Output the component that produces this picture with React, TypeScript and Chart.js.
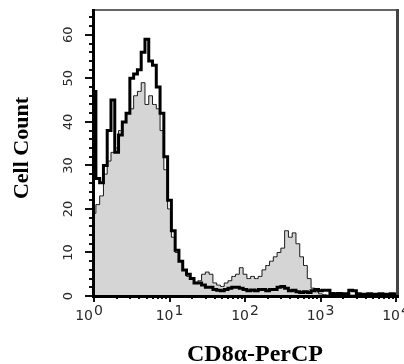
import React, { useEffect, useRef } from "react";
import { Chart, registerables } from "chart.js";

Chart.register(...registerables);

// Channel positions in decades (log10 of fluorescence)
const binLog = [
  0.0, 0.05, 0.1, 0.15, 0.2, 0.25, 0.3, 0.35, 0.4, 0.45,
  0.5, 0.55, 0.6, 0.65, 0.7, 0.75, 0.8, 0.85, 0.9, 0.95,
  1.0, 1.05, 1.1, 1.15, 1.2, 1.25, 1.3, 1.35, 1.4, 1.45,
  1.5, 1.55, 1.6, 1.65, 1.7, 1.75, 1.8, 1.85, 1.9, 1.95,
  2.0, 2.05, 2.1, 2.15, 2.2, 2.25, 2.3, 2.35, 2.4, 2.45,
  2.5, 2.55, 2.6, 2.65, 2.7, 2.75, 2.8, 2.85, 2.9, 2.95,
  3.0, 3.05, 3.1, 3.15, 3.2, 3.25, 3.3, 3.35, 3.4, 3.45,
  3.5, 3.55, 3.6, 3.65, 3.7, 3.75, 3.8, 3.85, 3.9, 3.95,
  4.0,
];

// Gray filled histogram (thin outline)
const grayCounts = [
  19, 21, 23, 28, 31, 33, 34, 38, 40, 42,
  43, 46, 47, 49, 44, 46, 44, 43, 38, 29,
  20, 13.5, 10, 8, 6, 4.5, 4, 3, 3.5, 5,
  5.5, 5, 3, 2.5, 2.2, 3, 3.5, 4.5, 5, 6.5,
  5, 4, 4.5, 4, 4.5, 6, 7, 8, 9, 10,
  11, 15, 13.5, 14.5, 12, 9, 7, 4, 1.8, 1,
  0.5, 0.3, 0.2, 0.2, 0.2, 0.2, 0.2, 0.2, 0.2, 0.2,
  0.2, 0.2, 0.2, 0.2, 0.2, 0.2, 0.2, 0.2, 0.2, 0.2,
  0.2,
];

// Thick black histogram
const blackCounts = [
  47, 27, 26, 30, 38, 45, 33, 37, 40, 42,
  50, 51, 52, 56, 59, 54, 53, 48, 42, 32,
  22, 15, 10.5, 8, 6, 5, 4, 3, 3, 2.5,
  2, 2, 1.5, 1.3, 1.2, 1.5, 1.8, 2, 2, 1.8,
  1.5, 1.2, 1.4, 1.2, 1.5, 1.5, 1.2, 1.5, 1.5, 2,
  2.2, 1.8, 1.2, 1.3, 1, 0.8, 1, 0.8, 1.2, 1.5,
  1.2, 1.3, 1.3, 0.6, 0.5, 0.6, 0.5, 0.5, 1.3, 1.2,
  0.5, 0.4, 0.4, 0.5, 0.4, 0.4, 0.5, 0.4, 0.4, 0.5,
  0.4,
];

const xTickExponents = ["0", "1", "2", "3", "4"];
const yTickLabels = [0, 10, 20, 30, 40, 50, 60];
const xTitle = "CD8α-PerCP";
const yTitle = "Cell Count";

const framePlugin = {
  id: "frame",
  afterDraw(chart: any) {
    const { ctx, chartArea: a, scales } = chart;
    const xs = scales.x;
    const ys = scales.y;
    const L = Math.round(a.left);
    const B = Math.round(a.bottom);
    ctx.save();
    // gray top & right border
    ctx.fillStyle = "#666666";
    ctx.fillRect(L, 9, 398 - L, 2);
    ctx.fillStyle = "#444444";
    ctx.fillRect(396, 9, 3, B - 9);

    // y ticks
    ctx.fillStyle = "#111";
    for (let v = 0; v <= 64; v += 2) {
      const y = Math.round(ys.getPixelForValue(v));
      const len = v % 10 === 0 ? 9 : 5;
      ctx.fillRect(L - len, y - 1, len, 2);
    }
    // x ticks
    for (let d = 0; d < 4; d++) {
      for (let m = 1; m <= 9; m++) {
        const x = Math.round(xs.getPixelForValue(m * Math.pow(10, d)));
        const len = m === 1 ? 6 : 3;
        ctx.fillRect(x - 1, B, 2, len);
      }
    }
    {
      const x = Math.round(xs.getPixelForValue(10000));
      ctx.fillRect(x - 1, B, 2, 6);
    }

    // thick black axes
    ctx.fillStyle = "#000";
    ctx.fillRect(L - 2, 9, 3, B - 9 + 2);
    ctx.fillRect(L - 2, B - 1, 399 - L + 2, 3);

    // y tick labels (rotated)
    ctx.fillStyle = "#2a2a2a";
    ctx.font = "13px 'DejaVu Sans'";
    ctx.textAlign = "center";
    ctx.textBaseline = "middle";
    for (const v of yTickLabels) {
      const y = ys.getPixelForValue(v);
      ctx.save();
      ctx.translate(69, y);
      ctx.rotate(-Math.PI / 2);
      ctx.fillText(String(v), 0, 0);
      ctx.restore();
    }

    // x tick labels: 10 with superscript exponent
    ctx.textAlign = "left";
    ctx.textBaseline = "alphabetic";
    xTickExponents.forEach((e, i) => {
      const x = xs.getPixelForValue(Math.pow(10, i));
      const base = "10";
      ctx.font = "14px 'DejaVu Sans'";
      const w1 = ctx.measureText(base).width;
      const w2 = ctx.measureText(e).width;
      const total = w1 + 1 + w2;
      const start = x - total / 2 - (i === 0 ? 5 : 0);
      ctx.fillText(base, start, 320);
      ctx.fillText(e, start + w1 + 1, 315);
    });

    // axis titles
    ctx.fillStyle = "#000";
    ctx.font = "bold 24px 'Liberation Serif'";
    ctx.textAlign = "center";
    ctx.textBaseline = "alphabetic";
    ctx.fillText(xTitle, 255, 361);

    ctx.save();
    ctx.font = "bold 22px 'Liberation Serif'";
    ctx.translate(22, 148);
    ctx.rotate(-Math.PI / 2);
    ctx.textBaseline = "middle";
    ctx.fillText(yTitle, 0, 0);
    ctx.restore();

    ctx.restore();
  },
};

export default function App() {
  const ref = useRef<HTMLCanvasElement | null>(null);

  useEffect(() => {
    if (!ref.current) return;
    const toPoints = (vals: number[]) =>
      binLog.map((p, i) => ({ x: Math.pow(10, p), y: vals[i] }));

    const chart = new Chart(ref.current, {
      type: "line",
      data: {
        datasets: [
          {
            label: "CD8α",
            data: toPoints(blackCounts),
            borderColor: "#000",
            borderWidth: 3,
            stepped: "middle",
            pointRadius: 0,
            fill: false,
            order: 0,
          },
          {
            label: "Control",
            data: toPoints(grayCounts),
            borderColor: "#1a1a1a",
            backgroundColor: "#d5d5d5",
            borderWidth: 1,
            stepped: "middle",
            pointRadius: 0,
            fill: "origin",
            order: 1,
          },
        ],
      },
      options: {
        responsive: false,
        animation: false,
        devicePixelRatio: 1,
        layout: { padding: { top: 10, right: 8, left: 0, bottom: 0 } },
        plugins: {
          legend: { display: false },
          tooltip: { enabled: false },
        },
        scales: {
          x: {
            type: "logarithmic",
            min: 1,
            max: 10000,
            ticks: { display: false },
            grid: { display: false },
            border: { display: false },
            afterFit: (s: any) => {
              s.height = 68;
            },
          },
          y: {
            type: "linear",
            min: 0,
            max: 65.7,
            ticks: { display: false },
            grid: { display: false },
            border: { display: false },
            afterFit: (s: any) => {
              s.width = 94;
            },
          },
        },
      },
      plugins: [framePlugin],
    });
    return () => chart.destroy();
  }, []);

  return (
    <div style={{ position: "absolute", left: 0, top: 0, width: 404, height: 364, background: "#fff" }}>
      <canvas ref={ref} width={404} height={364} />
    </div>
  );
}
